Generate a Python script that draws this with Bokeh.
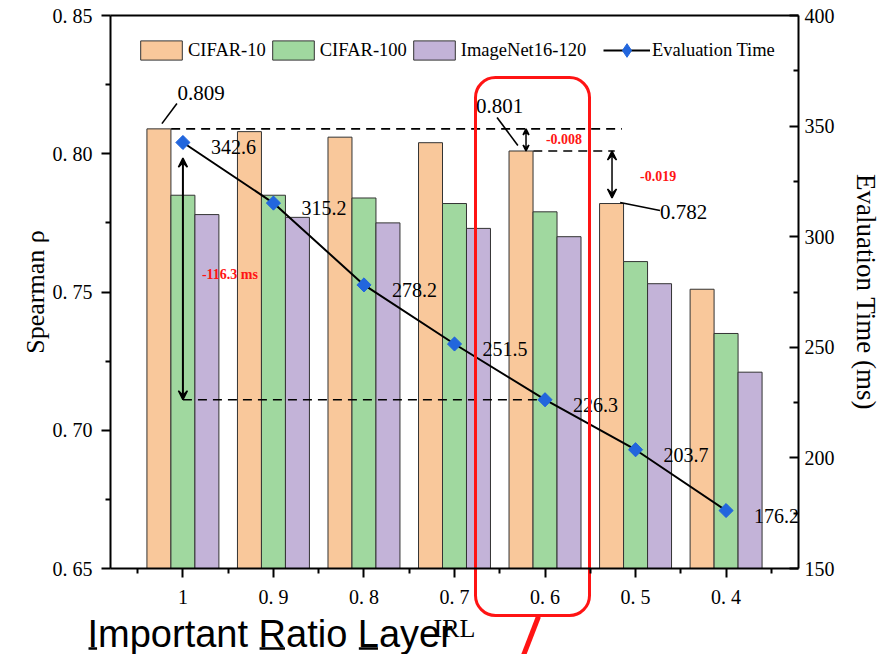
import math
from bokeh.plotting import figure
from bokeh.models import (ColumnDataSource, Range1d, LinearAxis, FixedTicker, Legend,
                          LegendItem, Label, Arrow, VeeHead, BoxAnnotation)
from bokeh.transform import dodge
from bokeh.embed import file_html
from bokeh.resources import INLINE

# ---------------- data ----------------
irl_labels = ["1", "0. 9", "0. 8", "0. 7", "0. 6", "0. 5", "0. 4"]
cifar10 = [0.809, 0.808, 0.806, 0.804, 0.801, 0.782, 0.751]
cifar100 = [0.785, 0.785, 0.784, 0.782, 0.779, 0.761, 0.735]
imagenet = [0.778, 0.777, 0.775, 0.773, 0.770, 0.753, 0.721]
eval_time = [342.6, 315.2, 278.2, 251.5, 226.3, 203.7, 176.2]
series_names = ["CIFAR-10", "CIFAR-100", "ImageNet16-120", "Evaluation Time"]
left_ticks = [0.65, 0.70, 0.75, 0.80, 0.85]
left_tick_labels = ["0. 65", "0. 70", "0. 75", "0. 80", "0. 85"]
right_ticks = [150, 200, 250, 300, 350, 400]
delta_labels = ["-116.3 ms", "-0.008", "-0.019"]
overlay_title = "Important Ratio Layer"

SERIF = "Liberation Serif"
C_OR, C_GR, C_PU, C_BL, C_RED = "#F9C89B", "#A0D89F", "#C3B3D8", "#2266DD", "#FF1414"

# ---------------- layout (page pixels) ----------------
W, H = 885, 654
FL, FR, FT, FB = 110, 798, 15, 568          # where the axes box sits on the page
X0, X1 = -0.8, 6.8                          # axes-box x extent (category index units)
Y0, Y1 = 0.65, 0.85                         # left axis extent
T0, T1 = 150, 400                           # right axis extent
kx = (FR - FL) / (X1 - X0)
ky = (FB - FT) / (Y1 - Y0)
kt = (FB - FT) / (T1 - T0)


def px2x(px):
    return X0 + (px - FL) / kx


def py2y(py):
    return Y0 - (py - FB) / ky


idx = list(range(len(irl_labels)))
src = ColumnDataSource(dict(idx=idx, c10=cifar10, c100=cifar100, inet=imagenet,
                            t=eval_time, tl=["%.1f" % v for v in eval_time]))

p = figure(width=W, height=H, output_backend="svg", toolbar_location=None,
           x_range=Range1d(X0 - FL / kx, X1 + (W - FR) / kx),
           y_range=Range1d(Y0 - (H - FB) / ky, Y1 + FT / ky),
           min_border_left=0, min_border_right=0, min_border_top=0, min_border_bottom=0)
p.extra_y_ranges = {"time": Range1d(T0 - (H - FB) / kt, T1 + FT / kt)}
p.xgrid.visible = False
p.ygrid.visible = False
p.outline_line_color = None
p.background_fill_color = "white"
p.border_fill_color = "white"

# ---------------- axes ----------------
def mids(v):
    return [(a + b) / 2 for a, b in zip(v[:-1], v[1:])]

xa = p.xaxis[0]
xa.ticker = FixedTicker(ticks=idx, minor_ticks=[i - 0.5 for i in idx] + [idx[-1] + 0.5])
xa.major_label_overrides = {i: lab for i, lab in zip(idx, irl_labels)}
xa.axis_label = "IRL"
xa.fixed_location = Y0
xa.bounds = (X0, X1)

ya = p.yaxis[0]
ya.ticker = FixedTicker(ticks=left_ticks, minor_ticks=mids(left_ticks))
ya.major_label_overrides = {t: lab for t, lab in zip(left_ticks, left_tick_labels)}
ya.axis_label = "Spearman ρ"
ya.fixed_location = X0
ya.bounds = (Y0, Y1)

ra = LinearAxis(y_range_name="time", ticker=FixedTicker(ticks=right_ticks, minor_ticks=mids(right_ticks)),
                axis_label="Evaluation Time (ms)", fixed_location=X1, bounds=(T0, T1))
p.add_layout(ra, "right")

ta = LinearAxis(ticker=FixedTicker(ticks=[]), fixed_location=Y1, bounds=(X0, X1),
                major_label_text_alpha=0, major_tick_line_color=None, minor_tick_line_color=None)
ta.axis_line_width = 2
p.add_layout(ta, "above")

for ax in (xa, ya, ra):
    ax.axis_line_width = 2
    ax.major_tick_line_width = 2
    ax.minor_tick_line_width = 2
    ax.major_label_text_font = SERIF
    ax.major_label_text_font_size = "20px"
    ax.major_label_text_color = "black"
    ax.axis_label_text_font = SERIF
    ax.axis_label_text_font_style = "normal"
    ax.axis_label_text_color = "black"
for ax in (xa, ya):
    ax.major_tick_out = 9
    ax.major_tick_in = 0
    ax.minor_tick_out = 5
    ax.minor_tick_in = 0
ra.major_tick_in = 9
ra.major_tick_out = 0
ra.minor_tick_in = 5
ra.minor_tick_out = 0
xa.major_label_standoff = 8
xa.axis_label_standoff = 3
xa.axis_label_text_font_size = "26px"
ya.major_label_standoff = 9
ya.axis_label_standoff = 0
ya.axis_label_text_font_size = "26px"
ra.major_label_standoff = 6
ra.axis_label_standoff = 13
ra.axis_label_text_font_size = "27px"

# ---------------- bars ----------------
bw = 0.265
r1 = p.vbar(x=dodge("idx", -bw, range=p.x_range), top="c10", bottom=Y0, width=bw, source=src,
            fill_color=C_OR, line_color="#333333", line_width=1)
r2 = p.vbar(x="idx", top="c100", bottom=Y0, width=bw, source=src,
            fill_color=C_GR, line_color="#333333", line_width=1)
r3 = p.vbar(x=dodge("idx", bw, range=p.x_range), top="inet", bottom=Y0, width=bw, source=src,
            fill_color=C_PU, line_color="#333333", line_width=1)

# ---------------- red highlight box ----------------
box = BoxAnnotation(left=px2x(475), right=px2x(589), top=py2y(77), bottom=py2y(615), fill_alpha=0,
                    line_color=C_RED, line_alpha=1, line_width=3, border_radius=20, level="glyph")
p.add_layout(box)
p.add_layout(Arrow(x_start=px2x(538), y_start=py2y(616), x_end=px2x(521), y_end=py2y(660), end=None,
                   line_color=C_RED, line_width=5, level="glyph"))

# ---------------- dashed reference lines ----------------
dash = dict(line_color="black", line_width=1.6, line_dash="9 6")
p.segment(x0=[-0.13], y0=[cifar10[0]], x1=[4.85], y1=[cifar10[0]], **dash)
p.segment(x0=[3.87], y0=[cifar10[4]], x1=[4.77], y1=[cifar10[4]], **dash)
p.segment(x0=[0], y0=[eval_time[4]], x1=[4], y1=[eval_time[4]], y_range_name="time", **dash)

# ---------------- evaluation-time line ----------------
rl = p.line(x="idx", y="t", source=src, y_range_name="time", line_color="black", line_width=2)
# diamond used as the legend swatch (hidden under the rotated squares)
rd = p.scatter(x="idx", y="t", source=src, y_range_name="time", marker="diamond", size=13,
               fill_color=C_BL, line_color=C_BL)
rs = p.scatter(x="idx", y="t", source=src, y_range_name="time", marker="square", size=10,
               angle=math.pi / 4, fill_color=C_BL, line_color=C_BL)
p.text(x="idx", y="t", text="tl", source=src, y_range_name="time", x_offset=28, y_offset=5,
       text_font=SERIF, text_font_size="20px", text_baseline="middle", text_align="left",
       text_color="black")

# ---------------- arrows ----------------
def head(s=9):
    return VeeHead(size=s, fill_color="black", line_color="black", line_width=1.5)

p.add_layout(Arrow(x_start=0, y_start=335.5, x_end=0, y_end=eval_time[4], y_range_name="time",
                   start=head(), end=head(), line_width=2))
p.add_layout(Arrow(x_start=3.79, y_start=cifar10[0], x_end=3.79, y_end=cifar10[4],
                   start=head(6), end=head(6), line_width=1.5))
p.add_layout(Arrow(x_start=4.74, y_start=cifar10[4], x_end=4.74, y_end=cifar10[5] + 0.002,
                   start=head(), end=head(), line_width=1.5))

# leader lines for value callouts
lead = dict(line_color="black", line_width=1.6)
p.segment(x0=[-0.232], y0=[0.8109], x1=[-0.066], y1=[0.8182], **lead)
p.segment(x0=[3.47], y0=[0.8131], x1=[3.70], y1=[0.8030], **lead)
p.segment(x0=[4.83], y0=[0.7824], x1=[5.27], y1=[0.7795], **lead)

# ---------------- text annotations ----------------
def lab(x, y, text, size="20px", color="black", bold=False, font=SERIF):
    p.add_layout(Label(x=x, y=y, text=text, text_font=font, text_font_size=size,
                       text_color=color, text_font_style="bold" if bold else "normal",
                       text_baseline="middle", text_align="left"))

lab(-0.06, 0.8218, "%.3f" % cifar10[0], size="21px")
lab(3.238, 0.8171, "%.3f" % cifar10[4], size="21px")
lab(5.27, 0.7788, "%.3f" % cifar10[5], size="21px")
lab(0.21, 0.7563, delta_labels[0], size="14px", color=C_RED, bold=True)
lab(4.01, 0.8055, delta_labels[1], size="14px", color=C_RED, bold=True)
lab(5.05, 0.7921, delta_labels[2], size="14px", color=C_RED, bold=True)

# big overlay caption with underlined initials (Liberation Sans advance widths, em units)
CAP_PX, CAP_X = 38, 87
p.add_layout(Label(x=px2x(CAP_X), y=py2y(633), text=overlay_title,
                   text_font="Liberation Sans", text_font_size="%dpx" % CAP_PX, text_color="black",
                   text_baseline="alphabetic", text_align="left"))
ul_em = [(0.0, 0.278), (4.502, 5.224), (7.114, 7.670)]
ul = [(CAP_X + a * CAP_PX + 1, CAP_X + b * CAP_PX - 1) for a, b in ul_em]
p.segment(x0=[px2x(a) for a, b in ul], y0=[py2y(648)] * 3, x1=[px2x(b) for a, b in ul],
          y1=[py2y(648)] * 3, line_color="black", line_width=2.5)

# ---------------- legends ----------------
common = dict(orientation="horizontal", padding=0, margin=0,
              border_line_alpha=0, background_fill_alpha=0, label_text_font=SERIF,
              label_text_font_size="18.5px", label_text_color="black")
leg1 = Legend(items=[LegendItem(label=series_names[0], renderers=[r1]),
                     LegendItem(label=series_names[1], renderers=[r2]),
                     LegendItem(label=series_names[2], renderers=[r3])],
              location=(135, 592), glyph_width=52, glyph_height=24, label_height=24,
              label_standoff=1, spacing=1, **common)
leg2 = Legend(items=[LegendItem(label=series_names[3], renderers=[rl, rd])],
              location=(603, 587), glyph_width=47, glyph_height=34, label_height=34,
              label_standoff=2, spacing=1, **common)
p.add_layout(leg1)
p.add_layout(leg2)

open("out.html", "w").write(file_html(p, INLINE))
